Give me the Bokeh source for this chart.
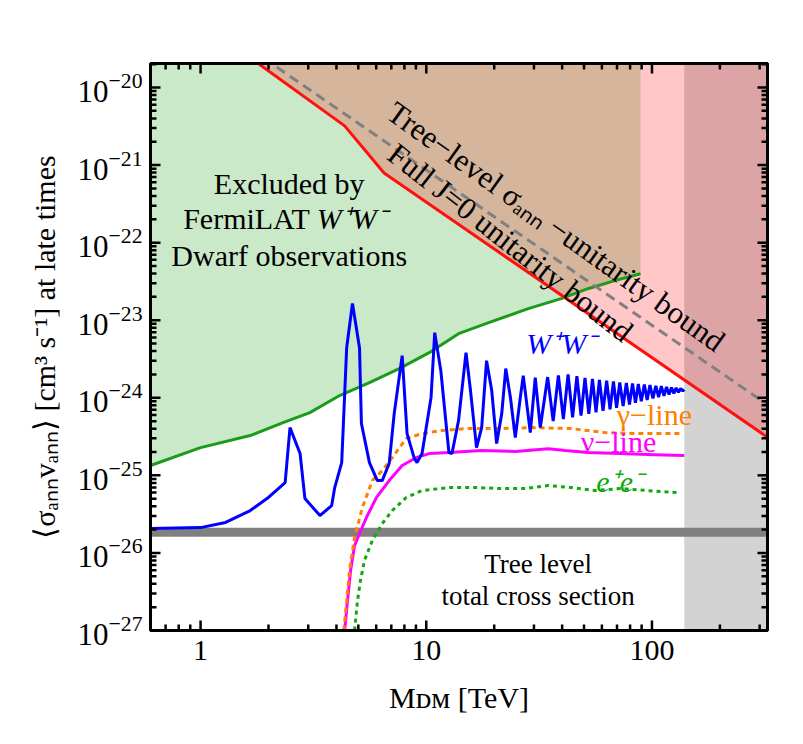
import math
from bokeh.plotting import figure
from bokeh.models import Range1d, LogAxis, Label, CustomJSTickFormatter
from bokeh.embed import file_html
from bokeh.resources import INLINE

FONT = "Liberation Serif"

# Fermi-LAT dwarf limit on W+W- annihilation
fermi_mass = [0.6, 1.0, 1.66, 2.32, 3.05, 4.13, 5.6, 7.59, 10.3, 13.9, 18.9, 28.3, 39.6, 52.0, 68.4, 89.0]
fermi_sigma = [1.34e-25, 2.28e-25, 3.26e-25, 4.79e-25, 6.44e-25, 1.07e-24, 1.57e-24, 2.38e-24,
               3.82e-24, 6.71e-24, 9.31e-24, 1.41e-23, 1.90e-23, 2.55e-23, 3.24e-23, 3.98e-23]

# full J=0 unitarity bound
unit_mass = [1.7, 4.35, 6.5, 325.0]
unit_sigma = [2.3e-20, 3.2e-21, 7.9e-22, 3.1e-25]

# tree-level sigma_ann unitarity bound
tree_mass = [1.9, 330.0]
tree_sigma = [2.4e-20, 7.9e-25]

# late-time W+W- cross section (Sommerfeld resonances)
ww_mass = [0.6, 1.0, 1.29, 1.66, 1.97, 2.37, 2.49, 2.76, 2.90, 3.38, 3.81, 3.93, 4.22, 4.44, 4.71,
           5.06, 5.16, 5.60, 6.07, 6.38, 6.85, 7.21, 7.82, 8.22, 8.83, 9.10, 9.58, 10.5, 10.9,
           11.6, 12.6, 13.0, 13.9, 15.0, 15.7, 16.7, 17.6, 18.5, 19.5, 20.5, 21.6, 22.5, 23.6,
           24.8, 26.1, 26.9, 28.9, 30.4, 32.0,
           34.5, 36.5, 38.5, 40.5, 42.5, 44.5, 46.5, 48.5, 50.5, 52.5, 54.5, 56.5, 58.5, 60.7,
           63.0, 65.2, 67.5, 69.7, 72.0, 74.5, 77.0, 79.5, 82.0, 84.5, 87.0, 89.7, 92.5, 95.2,
           98.0, 101.0, 104.0, 107.0, 110.0, 113.0, 116.0, 119.0, 122.0, 125.0, 128.0, 131.0,
           134.0, 137.0, 139.0]
ww_sigma = [2.06e-26, 2.12e-26, 2.47e-26, 3.52e-26, 5.02e-26, 8.07e-26, 4.13e-25, 1.91e-25, 5.02e-26,
            3.03e-26, 4.08e-26, 6.96e-26, 1.46e-25, 4.43e-24, 1.64e-23,
            4.43e-24, 4.66e-25, 1.46e-25, 8.57e-26, 8.57e-26, 1.42e-25, 6.25e-25, 3.50e-24, 3.46e-25,
            1.69e-25, 1.46e-25, 1.91e-25, 1.01e-24, 6.92e-24,
            2.24e-24, 1.97e-25, 1.91e-25, 5.09e-25, 3.82e-24, 1.24e-24, 2.28e-25, 4.13e-25, 3.01e-24,
            1.24e-24, 2.57e-25, 6.25e-25, 2.38e-24, 1.01e-24,
            3.07e-25, 1.01e-24, 1.93e-24, 3.56e-25, 1.82e-24, 4.13e-25,
            1.85e-24, 5.0e-25, 1.95e-24, 5.3e-25, 2.0e-24, 5.6e-25, 1.9e-24, 5.9e-25, 1.8e-24, 6.2e-25,
            1.75e-24, 6.5e-25, 1.7e-24, 6.8e-25,
            1.66e-24, 7.1e-25, 1.62e-24, 7.4e-25, 1.58e-24, 7.8e-25, 1.55e-24, 8.2e-25, 1.53e-24,
            8.6e-25, 1.51e-24, 9.0e-25, 1.48e-24, 9.4e-25,
            1.46e-24, 9.8e-25, 1.43e-24, 1.02e-24, 1.41e-24, 1.06e-24, 1.38e-24, 1.1e-24, 1.36e-24,
            1.14e-24, 1.34e-24, 1.18e-24,
            1.32e-24, 1.22e-24, 1.28e-24]

# gamma-line
gam_mass = [4.31, 4.44, 4.57, 4.81, 5.21, 5.77, 6.38, 7.07, 8.14, 9.58, 11.7, 15.0, 20.9, 29.2,
            43.8, 61.8, 86.3, 133.0]
gam_sigma = [1e-27, 2.44e-27, 5.93e-27, 1.58e-26, 3.85e-26, 8.57e-26, 1.15e-25, 1.69e-25, 2.98e-25,
             3.46e-25, 3.78e-25, 4.01e-25, 4.01e-25, 4.13e-25, 4.01e-25, 3.56e-25, 3.46e-25, 3.46e-25]

# neutrino-line
nu_mass = [4.35, 4.48, 4.62, 4.81, 5.06, 5.43, 6.01, 6.85, 7.82, 9.01, 10.3, 12.6, 17.6, 24.8,
           34.7, 41.2, 52.0, 72.6, 102.5, 139.0]
nu_sigma = [1e-27, 2.44e-27, 5.93e-27, 1.24e-26, 1.78e-26, 2.86e-26, 5.17e-26, 8.57e-26, 1.34e-25,
            1.69e-25, 1.91e-25, 1.97e-25, 2.09e-25, 2.03e-25, 2.21e-25, 2.09e-25, 1.97e-25,
            1.91e-25, 1.85e-25, 1.80e-25]

# e+e- channel
ee_mass = [4.81, 4.96, 5.11, 5.32, 5.77, 6.38, 7.07, 8.14, 9.58, 12.6, 16.6, 21.5, 27.5, 34.7,
           43.8, 55.8, 72.6, 95.5, 129.0]
ee_sigma = [1e-27, 2.44e-27, 4.41e-27, 7.98e-27, 1.45e-26, 2.39e-26, 3.52e-26, 5.17e-26, 6.37e-26,
            6.96e-26, 6.96e-26, 6.76e-26, 6.76e-26, 7.39e-26, 6.96e-26, 6.37e-26, 6.76e-26,
            6.37e-26, 6.00e-26]

RELIC_SIGMA = 1.85e-26       # tree-level total cross section
HEAVY_MASS = 139.0           # start of the grey band on the right

X_MIN, X_MAX = 0.6, 325.0
Y_MIN, Y_MAX = 1e-27, 2.04e-20
SKY = 1e-18
FLOOR = 1e-30

BORDER_L, BORDER_R, BORDER_T, BORDER_B = 150, 36, 63, 114
WIDTH, HEIGHT = 803, 744

p = figure(width=WIDTH, height=HEIGHT, x_axis_type="log", y_axis_type="log",
           x_range=Range1d(X_MIN, X_MAX), y_range=Range1d(Y_MIN, Y_MAX),
           output_backend="svg", toolbar_location=None,
           min_border_left=BORDER_L, min_border_right=BORDER_R,
           min_border_top=BORDER_T, min_border_bottom=BORDER_B)
p.background_fill_color = "white"
p.border_fill_color = "white"
p.grid.visible = False
p.outline_line_color = "black"
p.outline_line_width = 3

# shaded regions
p.varea(x=fermi_mass, y1=fermi_sigma, y2=[SKY] * len(fermi_mass), fill_color="#c9e9c9")
p.varea(x=[HEAVY_MASS, 1e4], y1=[FLOOR, FLOOR], y2=[SKY, SKY], fill_color="#d3d3d3")
p.varea(x=unit_mass, y1=unit_sigma, y2=[SKY] * len(unit_mass), fill_color="red", fill_alpha=0.22)

# thermal relic band
p.line(x=[0.1, 1e4], y=[RELIC_SIGMA, RELIC_SIGMA], line_color="#808080", line_width=9)

# curves
p.line(fermi_mass, fermi_sigma, line_color="#1a9c1a", line_width=3)
p.line(unit_mass, unit_sigma, line_color="#ff1010", line_width=3)
p.line(tree_mass, tree_sigma, line_color="#808080", line_width=3, line_dash="10 6")
p.line(ee_mass, ee_sigma, line_color="#11a811", line_width=3, line_dash="4 4")
p.line(nu_mass, nu_sigma, line_color="#ff00ff", line_width=3)
p.line(gam_mass, gam_sigma, line_color="#ff8000", line_width=3, line_dash="5 4")
p.line(ww_mass, ww_sigma, line_color="#0000ff", line_width=3)

# inward tick marks on all four sides of the frame, one short line per tick
x_major = [10.0 ** k for k in range(0, 3)]
x_minor = [m * 10.0 ** k for k in range(-1, 3) for m in range(2, 10)
           if X_MIN <= m * 10.0 ** k <= X_MAX]
y_major = [10.0 ** k for k in range(-27, -19)]
y_minor = [m * 10.0 ** k for k in range(-27, -20) for m in range(2, 10)] + [2e-20]

frame_w = WIDTH - BORDER_L - BORDER_R
frame_h = HEIGHT - BORDER_T - BORDER_B
x_px_per_dec = frame_w / math.log10(X_MAX / X_MIN)
y_px_per_dec = frame_h / math.log10(Y_MAX / Y_MIN)

def x_step(px):
    return 10.0 ** (px / x_px_per_dec)

def y_step(px):
    return 10.0 ** (px / y_px_per_dec)

TICK_STYLE = dict(line_color="black", line_width=2.5)
for ticks, size in ((x_major, 10), (x_minor, 6)):
    for t in ticks:
        p.line(x=[t, t], y=[Y_MIN / y_step(4), Y_MIN * y_step(size)], **TICK_STYLE)
        p.line(x=[t, t], y=[Y_MAX * y_step(4), Y_MAX / y_step(size)], **TICK_STYLE)
for ticks, size in ((y_major, 10), (y_minor, 6)):
    for t in ticks:
        p.line(x=[X_MIN / x_step(4), X_MIN * x_step(size)], y=[t, t], **TICK_STYLE)
        p.line(x=[X_MAX * x_step(4), X_MAX / x_step(size)], y=[t, t], **TICK_STYLE)

# axes styling
def style_axis(ax, size="30px"):
    ax.major_tick_in = 0
    ax.major_tick_out = 0
    ax.minor_tick_in = 0
    ax.minor_tick_out = 0
    ax.axis_line_width = 3
    ax.major_label_text_font = FONT
    ax.major_label_text_color = "black"
    ax.major_label_text_font_size = size
    ax.axis_label_text_font = FONT
    ax.axis_label_text_font_style = "normal"
    ax.axis_label_text_color = "black"
    ax.axis_label_text_font_size = "30px"

for ax in p.xaxis:
    style_axis(ax)
    ax.major_label_overrides = {1: "1", 10: "10", 100: "100"}
    ax.major_label_standoff = 10
    ax.axis_label = "Mᴅᴍ [TeV]"
    ax.axis_label_standoff = 18
for ax in p.yaxis:
    style_axis(ax, "31px")
    ax.major_label_standoff = 8
    ax.axis_label = "⟨σₐₙₙvₐₙₙ⟩ [cm³ s⁻¹] at late times"
    ax.axis_label_standoff = 14

top_axis = LogAxis(formatter=CustomJSTickFormatter(code="return ''"))
style_axis(top_axis)
p.add_layout(top_axis, "above")
right_axis = LogAxis(formatter=CustomJSTickFormatter(code="return ''"))
style_axis(right_axis)
p.add_layout(right_axis, "right")

def add_label(x, y, text, size="30px", color="black", style="normal", angle=0.0,
              align="center", baseline="middle", dx=0):
    p.add_layout(Label(x=x, y=y, text=text, text_font=FONT, text_font_size=size,
                       text_color=color, text_font_style=style, angle=angle,
                       text_align=align, text_baseline=baseline, x_offset=dx))

# region annotations
add_label(2.47, 5.75e-22, "Excluded by")
add_label(3.11, 2.04e-22, "FermiLAT", align="right", dx=-2)
add_label(3.11, 2.04e-22, "W⁺W⁻", style="italic", align="left", dx=5)
add_label(2.47, 6.79e-23, "Dwarf observations")
add_label(37.6, 1.61e-22, "Tree−level σₐₙₙ −unitarity bound", size="31px", angle=math.radians(-35.5))
add_label(23.6, 1.0e-22, "Full J=0 unitarity bound", size="31px", angle=math.radians(-38))
add_label(31.3, 7.29e-27, "Tree level", size="27px")
add_label(31.3, 2.82e-27, "total cross section", size="27px")

# channel annotations
add_label(39.6, 4.99e-24, "W⁺W⁻", color="#0000ff", style="italic")
add_label(102.5, 6.08e-25, "γ−line", color="#ff8000")
add_label(71.1, 2.73e-25, "ν−line", color="#ff00ff")
add_label(71.9, 8.32e-26, "e⁺e⁻", color="#11a811", style="italic")

open("out.html", "w").write(file_html(p, INLINE))
